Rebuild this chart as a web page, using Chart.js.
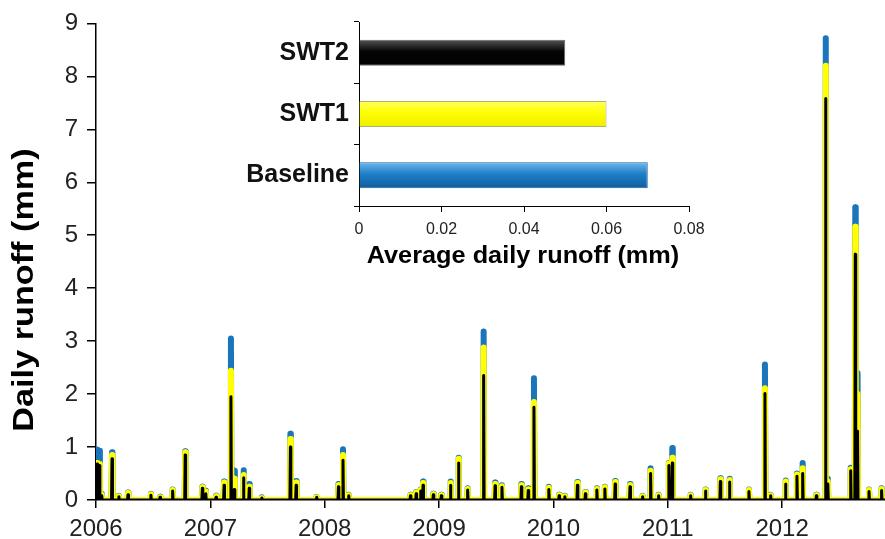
<!DOCTYPE html>
<html>
<head>
<meta charset="utf-8">
<script src="https://cdn.jsdelivr.net/npm/chart.js@4.4.1/dist/chart.umd.min.js"></script>
<style>
html, body { margin: 0; padding: 0; background: #fff; }
#wrap { position: relative; width: 885px; height: 539px; }
#mainChart { position: absolute; left: 0; top: 0; }
#insetChart { position: absolute; left: 230px; top: 10px; }
</style>
</head>
<body>
<div id="wrap">
  <canvas id="mainChart" width="885" height="539"></canvas>
  <canvas id="insetChart" width="480" height="270"></canvas>
</div>
<script>
Chart.defaults.font.family = "'Liberation Sans', Arial, sans-serif";
Chart.defaults.color = '#222';

// runoff events (decimal year) and the daily runoff peak of each run (mm)
const eventYears = [
  2006.01, 2006.03, 2006.05, 2006.14, 2006.20, 2006.28, 2006.48, 2006.56, 2006.67, 2006.78,
  2006.93, 2006.96, 2007.05, 2007.12, 2007.18, 2007.21, 2007.29, 2007.34, 2007.45, 2007.70,
  2007.75, 2007.93, 2008.12, 2008.16, 2008.21, 2008.75, 2008.80, 2008.84, 2008.86, 2008.95,
  2009.02, 2009.10, 2009.17, 2009.25, 2009.39, 2009.49, 2009.55, 2009.72, 2009.78, 2009.83,
  2009.96, 2010.05, 2010.10, 2010.21, 2010.28, 2010.38, 2010.45, 2010.54, 2010.67, 2010.78,
  2010.85, 2010.92, 2011.01, 2011.04, 2011.20, 2011.33, 2011.46, 2011.54, 2011.71, 2011.85,
  2011.90, 2012.03, 2012.13, 2012.18, 2012.30, 2012.38, 2012.40, 2012.60, 2012.64, 2012.66,
  2012.76, 2012.87
];
const baselineRunoff = [
  0.95, 0.93, 0.12, 0.90, 0.08, 0.14, 0.12, 0.06, 0.20, 0.92,
  0.25, 0.18, 0.08, 0.35, 3.05, 0.55, 0.56, 0.30, 0.05, 1.25,
  0.36, 0.06, 0.30, 0.96, 0.10, 0.10, 0.15, 0.20, 0.35, 0.12,
  0.10, 0.35, 0.80, 0.22, 3.18, 0.33, 0.28, 0.30, 0.22, 2.30,
  0.25, 0.10, 0.08, 0.34, 0.15, 0.22, 0.25, 0.36, 0.30, 0.08,
  0.60, 0.10, 0.70, 0.98, 0.10, 0.20, 0.41, 0.40, 0.20, 2.56,
  0.10, 0.37, 0.50, 0.70, 0.10, 8.72, 0.40, 0.61, 5.53, 2.40,
  0.20, 0.22
];
const swt1Runoff = [
  0.70, 0.68, 0.10, 0.85, 0.07, 0.13, 0.11, 0.05, 0.19, 0.90,
  0.24, 0.16, 0.07, 0.33, 2.44, 0.40, 0.47, 0.25, 0.04, 1.15,
  0.33, 0.05, 0.28, 0.85, 0.09, 0.09, 0.14, 0.19, 0.32, 0.11,
  0.09, 0.32, 0.78, 0.21, 2.88, 0.30, 0.26, 0.28, 0.20, 1.85,
  0.23, 0.09, 0.07, 0.32, 0.14, 0.21, 0.24, 0.34, 0.28, 0.07,
  0.55, 0.09, 0.69, 0.80, 0.09, 0.19, 0.39, 0.38, 0.19, 2.11,
  0.09, 0.35, 0.48, 0.60, 0.09, 8.20, 0.35, 0.58, 5.16, 2.00,
  0.19, 0.21
];
const swt2Runoff = [
  0.68, 0.65, 0.08, 0.78, 0.06, 0.10, 0.09, 0.05, 0.17, 0.85,
  0.22, 0.12, 0.05, 0.28, 1.95, 0.20, 0.42, 0.22, 0.04, 1.00,
  0.28, 0.05, 0.25, 0.75, 0.08, 0.08, 0.12, 0.17, 0.28, 0.10,
  0.08, 0.28, 0.70, 0.19, 2.35, 0.27, 0.24, 0.25, 0.18, 1.75,
  0.20, 0.08, 0.06, 0.28, 0.12, 0.19, 0.21, 0.30, 0.25, 0.06,
  0.50, 0.08, 0.65, 0.70, 0.08, 0.17, 0.35, 0.34, 0.16, 2.01,
  0.08, 0.30, 0.45, 0.50, 0.08, 7.58, 0.30, 0.55, 4.64, 1.30,
  0.16, 0.18
];
const yearStart = 2006;
const yearEnd = 2012.9;
const mainYTitle = 'Daily runoff (mm)';

// inset: average daily runoff
const insetLabels = ['SWT2', 'SWT1', 'Baseline'];
const insetValues = [0.05, 0.06, 0.07];
const insetXTitle = 'Average daily runoff (mm)';

// bar shading (top, middle, bottom)
const barShades = [
  ['#555555', '#050505', '#000000'],
  ['#ffff60', '#ffff00', '#eeee00'],
  ['#6fb6ea', '#1d7fc7', '#125d9c']
];
const barEdges = ['#666666', '#b0b070', '#1760a0'];

function toSpikes(values) {
  var half = 0.004;
  var pts = [{x: yearStart, y: 0}];
  eventYears.forEach(function(t, i) {
    pts.push({x: t - half, y: 0}, {x: t, y: values[i]}, {x: t + half, y: 0});
  });
  pts.push({x: yearEnd, y: 0});
  return pts;
}

// axis titles in the figure are drawn a bit wide, so stretch them along the text
function drawStretched(ctx, text, x, y, angle, stretch, font, baseline) {
  ctx.save();
  ctx.translate(x, y);
  ctx.rotate(angle);
  ctx.scale(stretch, 1);
  ctx.font = font;
  ctx.fillStyle = '#000';
  ctx.textAlign = 'center';
  ctx.textBaseline = baseline;
  ctx.fillText(text, 0, 0);
  ctx.restore();
}

var mainChart = new Chart(document.getElementById('mainChart'), {
    type: 'line',
    data: {
        datasets: [
            {
                label: 'SWT2',
                data: toSpikes(swt2Runoff),
                borderColor: '#000000',
                borderWidth: 3,
                order: 0
            },
            {
                label: 'SWT1',
                data: toSpikes(swt1Runoff),
                borderColor: '#ffff00',
                borderWidth: 6,
                order: 1
            },
            {
                label: 'Baseline',
                data: toSpikes(baselineRunoff),
                borderColor: '#1a75bb',
                borderWidth: 6,
                order: 2
            }
        ]
    },
    options: {
        animation: false,
        responsive: false,
        datasets: {
            line: {
                pointRadius: 0,
                tension: 0,
                borderCapStyle: 'round',
                borderJoinStyle: 'round'
            }
        },
        layout: { padding: { top: 20, right: 0, bottom: 0, left: 0 } },
        plugins: {
            legend: { display: false },
            tooltip: { enabled: false }
        },
        scales: {
            x: {
                type: 'linear',
                min: yearStart,
                max: yearEnd,
                ticks: {
                    stepSize: 1,
                    includeBounds: false,
                    color: '#222',
                    font: { size: 24 },
                    padding: 7,
                    callback: function(value) { return String(value); }
                },
                grid: { drawOnChartArea: false, tickLength: 8, color: '#000', lineWidth: 1.5 },
                border: { color: '#000', width: 1.5 },
                afterFit: function(scale) { scale.height = 39; }
            },
            y: {
                type: 'linear',
                min: 0,
                max: 9,
                ticks: { stepSize: 1, color: '#222', font: { size: 24 }, padding: 9 },
                grid: { drawOnChartArea: false, tickLength: 9, color: '#000', lineWidth: 1.5 },
                border: { color: '#000', width: 1.5 },
                afterFit: function(scale) { scale.width = 96; }
            }
        }
    },
    plugins: [{
        id: 'whiteBg',
        beforeDraw: (chart) => {
            const ctx = chart.canvas.getContext('2d');
            ctx.save();
            ctx.globalCompositeOperation = 'destination-over';
            ctx.fillStyle = 'white';
            ctx.fillRect(0, 0, chart.canvas.width, chart.canvas.height);
            ctx.restore();
        }
    }, {
        id: 'yTitle',
        afterDraw: (chart) => {
            drawStretched(chart.ctx, mainYTitle, 25, 290, -Math.PI / 2, 1.18,
                "bold 29px 'Liberation Sans', Arial, sans-serif", 'middle');
        }
    }]
});

var insetChart = new Chart(document.getElementById('insetChart'), {
    type: 'bar',
    data: {
        labels: insetLabels,
        datasets: [{
            data: insetValues,
            backgroundColor: function(context) {
                var chart = context.chart;
                var shade = barShades[context.dataIndex];
                if (!chart.chartArea) return shade[1];
                var yc = chart.scales.y.getPixelForValue(context.dataIndex);
                var g = chart.ctx.createLinearGradient(0, yc - 13, 0, yc + 13);
                g.addColorStop(0, shade[0]);
                g.addColorStop(0.45, shade[1]);
                g.addColorStop(1, shade[2]);
                return g;
            },
            borderColor: barEdges,
            borderWidth: 1,
            barPercentage: 0.85,
            categoryPercentage: 0.5
        }]
    },
    options: {
        indexAxis: 'y',
        animation: false,
        responsive: false,
        layout: { padding: { top: 12, right: 21, bottom: 0, left: 0 } },
        plugins: {
            legend: { display: false },
            tooltip: { enabled: false }
        },
        scales: {
            x: {
                min: 0,
                max: 0.08,
                ticks: { stepSize: 0.02, color: '#222', font: { size: 16 }, padding: 8 },
                grid: { drawOnChartArea: false, tickLength: 6, color: '#000' },
                border: { color: '#000', width: 1 },
                afterFit: function(scale) { scale.height = 74; scale.paddingLeft = 0; scale.paddingRight = 0; }
            },
            y: {
                ticks: { color: '#111', font: { size: 25, weight: 'bold' }, padding: 5 },
                grid: { drawOnChartArea: false, tickLength: 5, color: '#000' },
                border: { color: '#000', width: 1 },
                afterFit: function(scale) { scale.width = 129; scale.paddingTop = 0; scale.paddingBottom = 0; }
            }
        }
    },
    plugins: [{
        id: 'xTitle',
        afterDraw: (chart) => {
            drawStretched(chart.ctx, insetXTitle, 293, 253, 0, 1.1,
                "bold 23px 'Liberation Sans', Arial, sans-serif", 'alphabetic');
        }
    }]
});
</script>
</body>
</html>
